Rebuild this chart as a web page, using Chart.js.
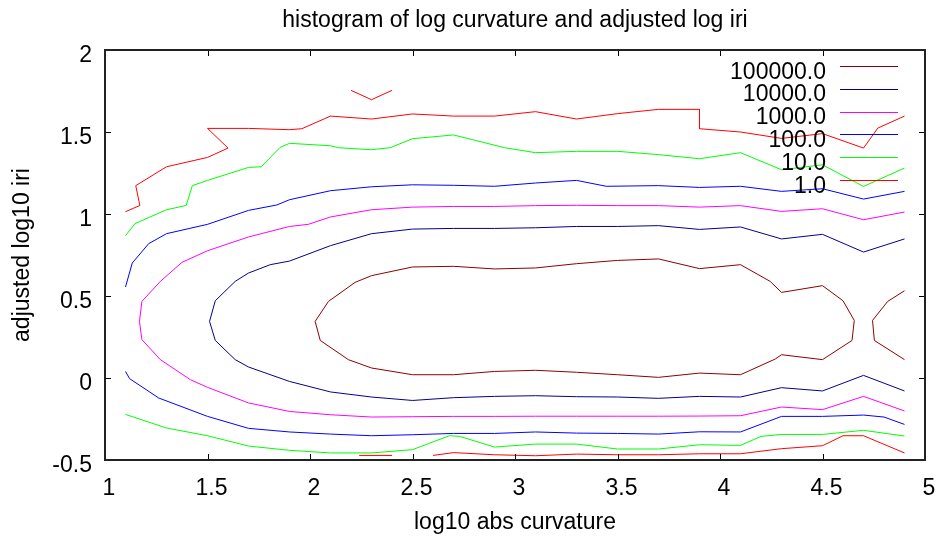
<!DOCTYPE html>
<html><head><meta charset="utf-8">
<script src="https://cdn.jsdelivr.net/npm/chart.js@4"></script>
<style>html,body{margin:0;padding:0;background:#fff}</style>
</head><body>
<canvas id="c" width="938" height="540"></canvas>
<script>
// ---- data ----
const levelLabels = ['100000.0', '10000.0', '1000.0', '100.0', '10.0', '1.0'];
const levelColors = ['#8b0000', '#00008b', '#ff00ff', '#0000ff', '#00ff00', '#ff0000'];
const xTicks = [1, 1.5, 2, 2.5, 3, 3.5, 4, 4.5, 5];
const yTicks = [-0.5, 0, 0.5, 1, 1.5, 2];

// contour level 100000
const c100000_main = [[2.5,0.677],[2.7,0.681],[2.9,0.665],[3.1,0.671],[3.3,0.697],[3.5,0.717],[3.7,0.726],[3.9,0.667],[4.1,0.691],[4.245,0.589],[4.3,0.522],[4.5,0.563],[4.6,0.471],[4.655,0.351],[4.644,0.229],[4.5,0.112],[4.3,0.142],[4.27,0.116],[4.1,0.02],[3.9,0.03],[3.7,0.004],[3.5,0.02],[3.3,0.035],[3.1,0.047],[2.9,0.04],[2.7,0.02],[2.5,0.02],[2.3,0.061],[2.187,0.112],[2.05,0.229],[2.025,0.345],[2.09,0.467],[2.22,0.583],[2.3,0.624],[2.5,0.677]];
const c100000_right = [[4.9,0.532],[4.818,0.467],[4.744,0.351],[4.753,0.229],[4.9,0.112]];
// contour level 10000
const c10000_main = [[4.9,0.848],[4.7,0.768],[4.5,0.876],[4.3,0.848],[4.1,0.921],[3.9,0.906],[3.7,0.929],[3.5,0.924],[3.3,0.924],[3.1,0.916],[2.9,0.912],[2.7,0.912],[2.5,0.908],[2.3,0.88],[2.1,0.807],[1.9,0.713],[1.806,0.691],[1.7,0.64],[1.635,0.589],[1.538,0.471],[1.51,0.345],[1.538,0.229],[1.635,0.112],[1.7,0.067],[1.9,-0.021],[2.1,-0.085],[2.3,-0.116],[2.5,-0.137],[2.7,-0.12],[2.9,-0.112],[3.1,-0.108],[3.3,-0.114],[3.5,-0.116],[3.7,-0.124],[3.9,-0.112],[4.1,-0.116],[4.3,-0.059],[4.5,-0.079],[4.7,0.016],[4.9,-0.079]];
// contour level 1000
const c1000_main = [[4.9,1.012],[4.7,0.965],[4.5,1.032],[4.3,1.016],[4.1,1.051],[3.9,1.042],[3.7,1.051],[3.5,1.051],[3.3,1.053],[3.1,1.051],[2.9,1.046],[2.7,1.046],[2.5,1.042],[2.3,1.026],[2.1,0.982],[1.992,0.937],[1.9,0.924],[1.7,0.86],[1.5,0.776],[1.375,0.705],[1.27,0.589],[1.18,0.467],[1.168,0.345],[1.18,0.234],[1.27,0.112],[1.416,-0.01],[1.5,-0.057],[1.7,-0.152],[1.9,-0.204],[2.1,-0.224],[2.3,-0.238],[2.5,-0.236],[2.7,-0.234],[2.9,-0.234],[3.1,-0.233],[3.3,-0.233],[3.5,-0.233],[3.7,-0.233],[3.9,-0.232],[4.1,-0.23],[4.3,-0.177],[4.5,-0.193],[4.7,-0.112],[4.9,-0.201]];
// contour level 100
const c100_top = [[1.1,0.555],[1.133,0.701],[1.213,0.819],[1.3,0.88],[1.5,0.937],[1.7,1.022],[1.838,1.055],[1.9,1.087],[2.1,1.142],[2.3,1.166],[2.5,1.178],[2.7,1.175],[2.9,1.169],[3.1,1.189],[3.3,1.205],[3.445,1.169],[3.7,1.173],[3.9,1.162],[4.1,1.169],[4.3,1.138],[4.5,1.154],[4.7,1.091],[4.9,1.138]];
const c100_bottom = [[1.1,0.04],[1.12,-0.004],[1.262,-0.122],[1.5,-0.234],[1.7,-0.307],[1.9,-0.329],[2.1,-0.342],[2.3,-0.352],[2.5,-0.346],[2.7,-0.338],[2.9,-0.338],[3.1,-0.329],[3.3,-0.336],[3.5,-0.338],[3.7,-0.342],[3.9,-0.328],[4.1,-0.329],[4.3,-0.234],[4.5,-0.234],[4.7,-0.226],[4.8,-0.238],[4.9,-0.283]];
// contour level 10
const c10_top = [[1.1,0.868],[1.146,0.941],[1.3,1.026],[1.396,1.052],[1.426,1.173],[1.5,1.205],[1.7,1.284],[1.762,1.288],[1.854,1.406],[1.9,1.431],[2.1,1.416],[2.14,1.404],[2.3,1.392],[2.39,1.404],[2.5,1.459],[2.7,1.482],[2.95,1.404],[3.1,1.374],[3.3,1.382],[3.5,1.382],[3.7,1.362],[3.9,1.337],[4.1,1.374],[4.3,1.27],[4.5,1.3],[4.7,1.168],[4.9,1.28]];
const c10_bottom = [[1.1,-0.222],[1.3,-0.305],[1.5,-0.352],[1.7,-0.415],[1.9,-0.441],[2.1,-0.457],[2.3,-0.457],[2.5,-0.437],[2.68,-0.352],[2.73,-0.356],[2.9,-0.421],[3.1,-0.403],[3.3,-0.403],[3.5,-0.433],[3.7,-0.433],[3.9,-0.407],[4.1,-0.411],[4.2,-0.356],[4.3,-0.344],[4.5,-0.344],[4.7,-0.319],[4.9,-0.354]];
// contour level 1
const c1_top = [[1.1,1.014],[1.17,1.052],[1.15,1.173],[1.3,1.288],[1.5,1.345],[1.6,1.402],[1.5,1.522],[1.7,1.522],[1.9,1.514],[1.96,1.52],[2.1,1.597],[2.3,1.579],[2.5,1.61],[2.7,1.597],[2.9,1.597],[3.1,1.624],[3.3,1.579],[3.5,1.612],[3.7,1.638],[3.9,1.638],[3.9,1.52],[4.1,1.5],[4.3,1.461],[4.5,1.49],[4.7,1.402],[4.77,1.524],[4.9,1.597]];
const c1_peak = [[2.2,1.754],[2.3,1.697],[2.4,1.754]];
const c1_bottomA = [[2.24,-0.472],[2.4,-0.472]];
const c1_bottomB = [[2.6,-0.472],[2.7,-0.455],[2.9,-0.468],[3.1,-0.474],[3.3,-0.464],[3.5,-0.468],[3.7,-0.468],[3.9,-0.462],[4.1,-0.462],[4.3,-0.431],[4.5,-0.413],[4.6,-0.352],[4.7,-0.352],[4.9,-0.457]];

const levelSegments = [
  [c100000_main, c100000_right],
  [c10000_main],
  [c1000_main],
  [c100_top, c100_bottom],
  [c10_top, c10_bottom],
  [c1_top, c1_peak, c1_bottomA, c1_bottomB]
];

function joinSegments(segs) {
  const out = [];
  segs.forEach((s, i) => {
    if (i) out.push({x: s[0][0], y: null});
    s.forEach(p => out.push({x: p[0], y: p[1]}));
  });
  return out;
}

const FONT = {family: '"Liberation Sans", Arial, sans-serif', size: 23};
const FONT_CSS = '23px "Liberation Sans", Arial, sans-serif';

const datasets = levelLabels.map((lab, i) => ({
  label: lab,
  data: joinSegments(levelSegments[i]),
  borderColor: levelColors[i],
  backgroundColor: levelColors[i],
  borderWidth: 1,
  pointRadius: 0,
  pointHoverRadius: 0,
  showLine: true,
  spanGaps: false,
  tension: 0,
  fill: false
}));

const framePlugin = {
  id: 'frame',
  afterDatasetsDraw(chart) {
    const {ctx, chartArea: a, scales: {x, y}} = chart;
    ctx.save();
    ctx.strokeStyle = '#000';
    ctx.lineWidth = 1;
    ctx.beginPath();
    xTicks.forEach(v => {
      const px = Math.round(x.getPixelForValue(v)) + 0.5;
      ctx.moveTo(px, a.bottom); ctx.lineTo(px, a.bottom - 6);
      ctx.moveTo(px, a.top); ctx.lineTo(px, a.top + 6);
    });
    yTicks.forEach(v => {
      const py = Math.round(y.getPixelForValue(v)) + 0.5;
      ctx.moveTo(a.left, py); ctx.lineTo(a.left + 6, py);
      ctx.moveTo(a.right, py); ctx.lineTo(a.right - 6, py);
    });
    ctx.stroke();
    ctx.strokeStyle = '#222';
    ctx.lineWidth = 2;
    ctx.strokeRect(a.left, a.top, a.right - a.left, a.bottom - a.top);
    ctx.font = FONT_CSS;
    ctx.textAlign = 'right';
    ctx.textBaseline = 'middle';
    chart.data.datasets.forEach((ds, i) => {
      const ly = a.top + 15.7 + i * 22.9;
      ctx.fillStyle = '#000';
      ctx.fillText(ds.label, a.right - 99, ly + 6.5);
      ctx.strokeStyle = ds.borderColor;
      ctx.lineWidth = 1;
      ctx.beginPath();
      ctx.moveTo(a.right - 85, Math.round(ly) + 0.5);
      ctx.lineTo(a.right - 27, Math.round(ly) + 0.5);
      ctx.stroke();
    });
    ctx.restore();
  }
};

const fmt = v => String(Math.round(v * 10) / 10);

new Chart(document.getElementById('c'), {
  type: 'scatter',
  data: {datasets},
  options: {
    responsive: false,
    animation: false,
    devicePixelRatio: 1,
    layout: {padding: {left: 0, right: 13, top: 0, bottom: 0}},
    plugins: {
      legend: {display: false},
      tooltip: {enabled: false},
      title: {
        display: true,
        text: 'histogram of log curvature and adjusted log iri',
        font: {family: FONT.family, size: 23, weight: 'normal'},
        color: '#000',
        fullSize: false,
        padding: {top: 6.7, bottom: 15.7}
      }
    },
    scales: {
      x: {
        type: 'linear', min: 1, max: 5,
        afterBuildTicks: s => { s.ticks = xTicks.map(v => ({value: v})); },
        afterFit: s => { s.height = 80; s.paddingLeft = 0; s.paddingRight = 0; },
        ticks: {font: FONT, color: '#000', padding: 15, labelOffset: 4, maxRotation: 0, autoSkip: false, callback: fmt},
        grid: {display: false, drawTicks: false},
        border: {display: false},
        title: {display: true, text: 'log10 abs curvature', font: FONT, color: '#000', padding: {top: 0, bottom: 3.2}}
      },
      y: {
        type: 'linear', min: -0.5, max: 2,
        afterBuildTicks: s => { s.ticks = yTicks.map(v => ({value: v})); },
        afterFit: s => { s.width = 105; s.paddingTop = 0; s.paddingBottom = 0; },
        ticks: {font: FONT, color: '#000', padding: 13, labelOffset: 6, autoSkip: false, callback: fmt},
        grid: {display: false, drawTicks: false},
        border: {display: false},
        title: {display: true, text: 'adjusted log10 iri', font: FONT, color: '#000', padding: {top: 9.2, bottom: 0}}
      }
    }
  },
  plugins: [framePlugin]
});
</script>
</body></html>
